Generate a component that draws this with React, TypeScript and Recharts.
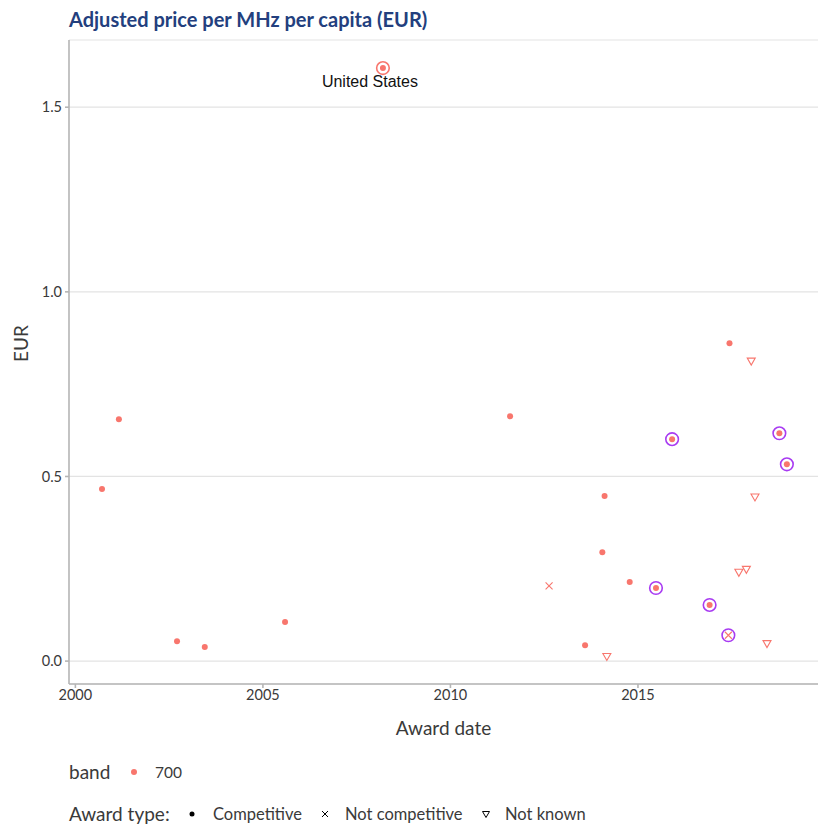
import React from 'react';
import { CartesianGrid, Scatter, ScatterChart, XAxis, YAxis } from 'recharts';

type Point = { date: number; eur: number; ring?: 'purple' | 'red'; label?: string };

// award date as decimal year, price in EUR per MHz per capita (700 MHz band)
const competitive: Point[] = [
  { date: 2000.71, eur: 0.466 },
  { date: 2001.16, eur: 0.655 },
  { date: 2002.71, eur: 0.054 },
  { date: 2003.45, eur: 0.038 },
  { date: 2005.59, eur: 0.106 },
  { date: 2008.2, eur: 1.606, ring: 'red', label: 'United States' },
  { date: 2011.59, eur: 0.663 },
  { date: 2013.59, eur: 0.043 },
  { date: 2014.05, eur: 0.295 },
  { date: 2014.11, eur: 0.447 },
  { date: 2014.78, eur: 0.214 },
  { date: 2015.48, eur: 0.198, ring: 'purple' },
  { date: 2015.91, eur: 0.601, ring: 'purple' },
  { date: 2016.91, eur: 0.152, ring: 'purple' },
  { date: 2017.44, eur: 0.861 },
  { date: 2018.77, eur: 0.617, ring: 'purple' },
  { date: 2018.97, eur: 0.533, ring: 'purple' },
];

const notCompetitive: Point[] = [
  { date: 2012.63, eur: 0.204 },
  { date: 2017.41, eur: 0.070, ring: 'purple' },
];

const notKnown: Point[] = [
  { date: 2014.17, eur: 0.013 },
  { date: 2017.69, eur: 0.241 },
  { date: 2017.89, eur: 0.249 },
  { date: 2018.02, eur: 0.813 },
  { date: 2018.12, eur: 0.445 },
  { date: 2018.44, eur: 0.048 },
];

const xTicks = [2000, 2005, 2010, 2015];
const yTicks = [0, 0.5, 1, 1.5];

const RED = '#F8766D';
const PURPLE = '#A83BF2';
const AXIS = '#B5B5B5';
const TEXT = '#3A3A3A';
const FONT = 'Lato, "Open Sans", sans-serif';

const Ring = ({ cx, cy, ring }: any) =>
  ring ? <circle cx={cx} cy={cy} r={6.3} fill="none" stroke={ring === 'red' ? RED : PURPLE} strokeWidth={1.6} /> : null;

const DotShape = (props: any) => {
  const { cx, cy, payload } = props;
  return (
    <g>
      <Ring cx={cx} cy={cy} ring={payload.ring} />
      <circle cx={cx} cy={cy} r={3} fill={RED} />
      {payload.label && (
        <text x={cx - 13} y={cy + 19} textAnchor="middle" fontSize={16} fill="#111" fontFamily='"Liberation Sans", Arial, sans-serif'>
          {payload.label}
        </text>
      )}
    </g>
  );
};

const CrossShape = (props: any) => {
  const { cx, cy, payload } = props;
  const s = 3.5;
  return (
    <g>
      <Ring cx={cx} cy={cy} ring={payload.ring} />
      <path d={`M${cx - s},${cy - s}L${cx + s},${cy + s}M${cx - s},${cy + s}L${cx + s},${cy - s}`} stroke={RED} strokeWidth={1.1} />
    </g>
  );
};

const TriangleShape = (props: any) => {
  const { cx, cy } = props;
  return (
    <path
      d={`M${cx - 4},${cy - 2.8}L${cx + 4},${cy - 2.8}L${cx},${cy + 4.2}Z`}
      fill="none"
      stroke={RED}
      strokeWidth={1.1}
    />
  );
};

const legendText: React.CSSProperties = {
  position: 'absolute',
  fontFamily: FONT,
  fontSize: 16.5,
  lineHeight: '20px',
  color: TEXT,
  whiteSpace: 'nowrap',
};

export default function App() {
  return (
    <div style={{ position: 'absolute', left: 0, top: 0, width: 818, height: 827, background: '#fff' }}>
      <div style={{ position: 'absolute', left: 69, top: 7, lineHeight: '24px', fontFamily: FONT, fontWeight: 700, fontSize: 20, color: '#233F7E' }}>
        Adjusted price per MHz per capita (EUR)
      </div>
      <ScatterChart width={818} height={827} margin={{ top: 40, right: 0, bottom: 113, left: 29 }}>
        <CartesianGrid horizontal vertical={false} stroke="#E3E3E3" strokeWidth={1.2} />
        <XAxis
          type="number"
          dataKey="date"
          domain={[1999.83, 2019.8]}
          ticks={xTicks}
          allowDataOverflow
          height={30}
          stroke={AXIS}
          strokeWidth={1.6}
          tickSize={4}
          tick={{ fill: TEXT, fontSize: 14.5, fontFamily: FONT }}
          tickMargin={2}
          label={{ value: 'Award date', position: 'insideBottom', offset: -21, fill: TEXT, fontSize: 19, fontFamily: FONT }}
        />
        <YAxis
          type="number"
          dataKey="eur"
          domain={[-0.062, 1.682]}
          ticks={yTicks}
          allowDataOverflow
          width={40}
          stroke={AXIS}
          strokeWidth={1.6}
          tickSize={4}
          tickMargin={3}
          tickFormatter={(v: number) => v.toFixed(1)}
          tick={{ fill: TEXT, fontSize: 14.5, fontFamily: FONT }}
          label={{ value: 'EUR', angle: -90, position: 'insideLeft', offset: -8, fill: TEXT, fontSize: 19, fontFamily: FONT }}
        />
        <Scatter data={competitive} shape={DotShape} isAnimationActive={false} />
        <Scatter data={notCompetitive} shape={CrossShape} isAnimationActive={false} />
        <Scatter data={notKnown} shape={TriangleShape} isAnimationActive={false} />
      </ScatterChart>
      <div style={{ ...legendText, left: 69, top: 762, fontSize: 19 }}>band</div>
      <svg style={{ position: 'absolute', left: 128, top: 766 }} width={12} height={12}>
        <circle cx={6} cy={6} r={3} fill={RED} />
      </svg>
      <div style={{ ...legendText, left: 155, top: 762, fontSize: 15.5 }}>700</div>
      <div style={{ ...legendText, left: 69, top: 804, fontSize: 19 }}>Award type:</div>
      <svg style={{ position: 'absolute', left: 186, top: 808 }} width={12} height={12}>
        <circle cx={6} cy={6} r={2.5} fill="#000" />
      </svg>
      <div style={{ ...legendText, left: 213, top: 804 }}>Competitive</div>
      <svg style={{ position: 'absolute', left: 318.5, top: 808 }} width={12} height={12}>
        <path d="M3,3L9,9M3,9L9,3" stroke="#000" strokeWidth={1} />
      </svg>
      <div style={{ ...legendText, left: 345, top: 804 }}>Not competitive</div>
      <svg style={{ position: 'absolute', left: 479.5, top: 808 }} width={12} height={12}>
        <path d="M2.5,3.5L9.5,3.5L6,9.5Z" fill="none" stroke="#000" strokeWidth={1} />
      </svg>
      <div style={{ ...legendText, left: 505, top: 804 }}>Not known</div>
    </div>
  );
}
